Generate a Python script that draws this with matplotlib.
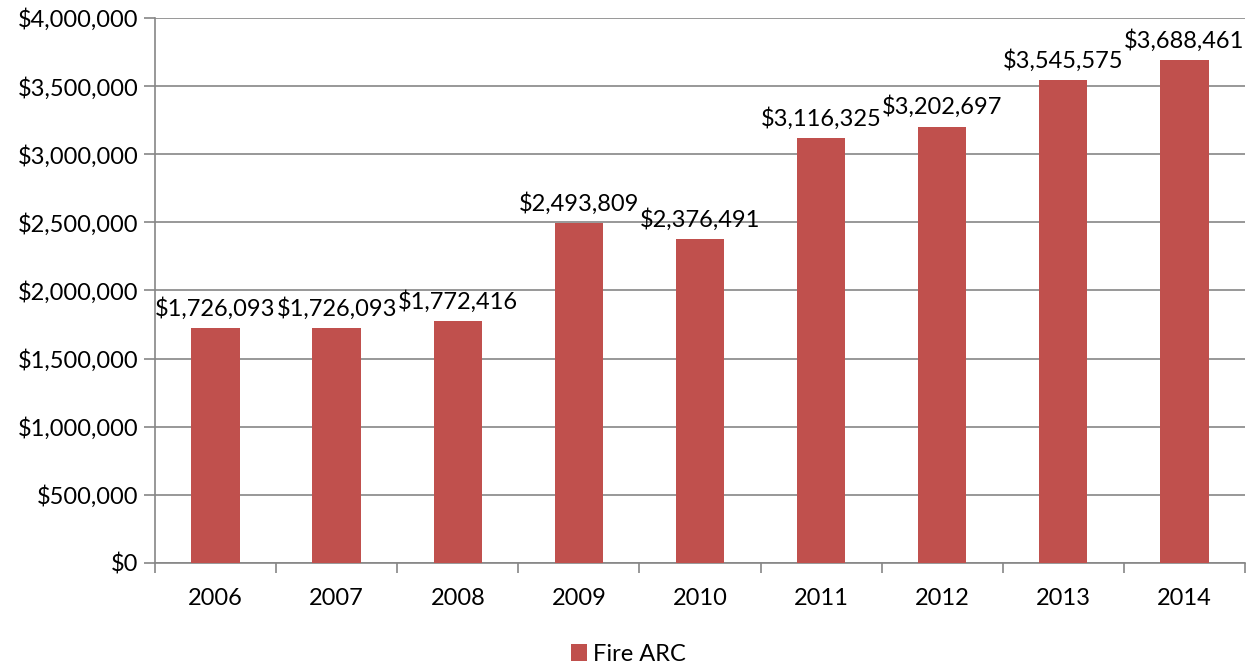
import matplotlib
matplotlib.use('Agg')
import matplotlib.pyplot as plt
from matplotlib.ticker import FuncFormatter, MultipleLocator

plt.rcParams['font.family'] = ['Lato', 'DejaVu Sans']

years = ['2006', '2007', '2008', '2009', '2010', '2011', '2012', '2013', '2014']
fire_arc = [1726093, 1726093, 1772416, 2493809, 2376491, 3116325, 3202697, 3545575, 3688461]

bar_color = '#C0504D'
grid_color = '#868686'
fs = 17

fig = plt.figure(figsize=(12.57, 6.66), dpi=100)
ax = fig.add_axes([0.1233, 0.1547, 0.8671, 0.8183])

x = range(len(years))
bars = ax.bar(x, fire_arc, width=0.4, color=bar_color, zorder=3, label='Fire ARC')

# dollar labels over each bar
for xi, v in zip(x, fire_arc):
    ax.annotate('${:,}'.format(v), (xi, v), xytext=(0, 6), textcoords='offset points',
                ha='center', va='bottom', fontsize=fs, color='black', zorder=4)

ax.set_xlim(-0.5, len(years) - 0.5)
ax.set_ylim(0, 4000000)
ax.yaxis.set_major_locator(MultipleLocator(500000))
ax.yaxis.set_major_formatter(FuncFormatter(lambda v, p: '${:,.0f}'.format(v)))
ax.grid(axis='y', color=grid_color, linewidth=1.2, zorder=0)

# tick marks between categories, labels centred under bars
ax.set_xticks([i + 0.5 for i in range(-1, len(years))])
ax.set_xticklabels([])
ax.set_xticks(list(x), minor=True)
ax.set_xticklabels(years, minor=True)
ax.tick_params(axis='x', which='major', length=7, color=grid_color, width=1.2, direction='out')
ax.tick_params(axis='x', which='minor', length=0, pad=18, labelsize=fs)
ax.tick_params(axis='y', length=8, color=grid_color, width=1.2, direction='out', labelsize=fs, pad=4)

for side in ['top', 'right']:
    ax.spines[side].set_visible(False)
for side in ['left', 'bottom']:
    ax.spines[side].set_color(grid_color)
    ax.spines[side].set_linewidth(1.2)

fig.legend(handles=[bars], labels=['Fire ARC'], loc='center', bbox_to_anchor=(0.5, 0.018),
           frameon=False, fontsize=fs, handlelength=0.7, handleheight=0.7, handletextpad=0.25)

fig.savefig('out.png', dpi=100)
